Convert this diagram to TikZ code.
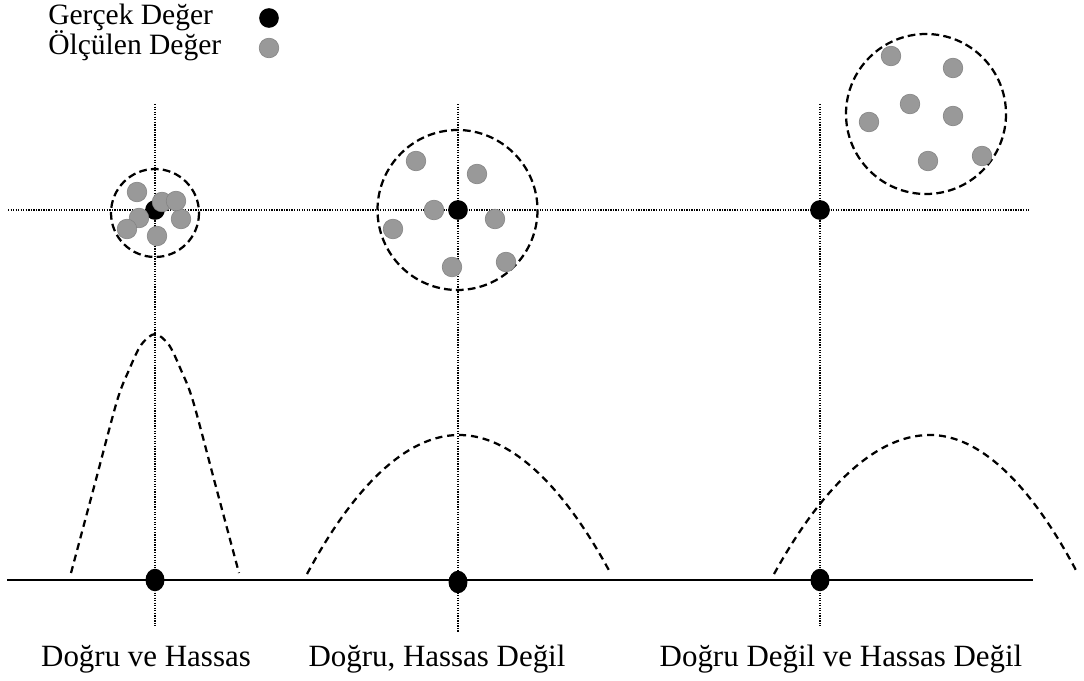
\documentclass[tikz,border=0pt]{standalone}
\usepackage{fontspec}
\setmainfont{Liberation Serif}
\usetikzlibrary{shapes.geometric}
\definecolor{measgray}{gray}{0.6}
\tikzset{
  truept/.style={circle,fill=black,inner sep=0pt,minimum size=14pt},
  measpt/.style={circle,fill=measgray,draw=measgray!85!black,line width=0.4pt,inner sep=0pt,minimum size=14pt},
  axisdot/.style={ellipse,fill=black,inner sep=0pt,minimum width=13.5pt,minimum height=16pt},
  guide/.style={line width=0.9pt,dash pattern=on 0.9pt off 0.9pt},
  spread/.style={line width=1.6pt,dash pattern=on 5.5pt off 3pt},
  bell/.style={line width=1.6pt,dash pattern=on 5pt off 3.5pt},
  lbl/.style={font=\fontsize{21}{25}\selectfont,anchor=base,inner sep=0pt},
  caselbl/.style={lbl,font=\fontsize{22}{26}\selectfont}
}

\begin{document}
\begin{tikzpicture}[x=0.025cm,y=-0.025cm]
  \useasboundingbox (0,0) rectangle (1084,681);
  % legend
  \node[lbl,anchor=base west] (lg1) at (48,25) {Gerçek Değer};
  \node[lbl,anchor=base west] (lg2) at (48,55) {Ölçülen Değer};
  \node[truept] (lgt) at (269,18) {};
  \node[measpt] (lgm) at (269,48) {};
  % guides
  \coordinate (hl) at (8,210); \coordinate (hr) at (1030,210);
  \draw[guide] (hl)--(hr);
  \foreach \x/\b [count=\i] in {155/626,458/632,820/626}{\coordinate (top\i) at (\x,104); \coordinate (bot\i) at (\x,\b); \draw[guide] (top\i)--(bot\i);}
  % bells
  \draw[bell] plot[smooth] coordinates {(71,573) (94,487) (117,401) (129,370) (141,345) (155,334) (169,345) (181,370) (193,401) (216,487) (239,573)};
  \draw[bell] (307,574) parabola bend (459,435) (611,574);
  \draw[bell] (774,574) parabola bend (930,435) (1078,574);
  % axis
  \coordinate (al) at (7,580); \coordinate (ar) at (1033,580);
  \draw[line width=2pt] (al)--(ar);
  \node[axisdot] (a1) at (155,580) {};
  \node[axisdot] (a2) at (458,582) {};
  \node[axisdot] (a3) at (820,580) {};
  % spread circles
  \draw[spread] (155,213) circle[radius=44];
  \draw[spread] (457.5,210) circle[radius=80];
  \draw[spread] (926,114) circle[radius=80];
  % true values
  \node[truept] (t1) at (155,210) {};
  \node[truept] (t2) at (458,210) {};
  \node[truept] (t3) at (820,210) {};
  % measured values
  \foreach \x/\y [count=\i] in {137/192,139/218,127/229,157/236,181/219,162/202,176/201}{\node[measpt] (ma\i) at (\x,\y) {};}
  \foreach \x/\y [count=\i] in {416/161,477/174,434/210,495/219,393/229,452/267,506/262}{\node[measpt] (mb\i) at (\x,\y) {};}
  \foreach \x/\y [count=\i] in {891/56,953/68,910/104,953/116,869/122,928/161,982/156}{\node[measpt] (mc\i) at (\x,\y) {};}
  % cases
  \node[caselbl] (c1) at (146,666) {Doğru ve Hassas};
  \node[caselbl] (c2) at (437,666) {Doğru, Hassas Değil};
  \node[caselbl] (c3) at (841,666) {Doğru Değil ve Hassas Değil};
\end{tikzpicture}
\end{document}
